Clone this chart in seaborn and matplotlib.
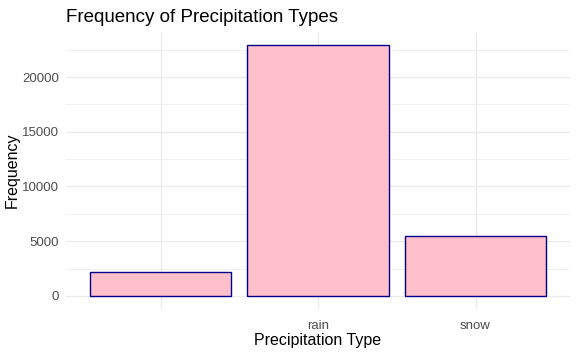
import matplotlib
matplotlib.use("Agg")
import matplotlib.pyplot as plt
import seaborn as sns
import pandas as pd
import numpy as np
from matplotlib.ticker import MultipleLocator

# data
precip_types = ["", "rain", "snow"]
counts = [2190, 22920, 5500]

df = pd.DataFrame({"type": precip_types, "count": counts})

sns.set_style("white")
plt.rcParams["font.family"] = ["Liberation Sans", "DejaVu Sans"]

fig = plt.figure(figsize=(5.77, 3.54), dpi=100)
ax = fig.add_axes([66 / 577, 1 - 308.5 / 354, 504 / 577, 276 / 354])

sns.barplot(data=df, x="type", y="count", color="pink", edgecolor="darkblue",
            linewidth=1.0, width=0.9, saturation=1, ax=ax, zorder=3)

ymax = max(counts) * 1.05
ax.set_ylim(-0.05 * max(counts), ymax)
ax.set_xlim(-0.6, 2.6)
ax.yaxis.set_major_locator(MultipleLocator(5000))
ax.yaxis.set_minor_locator(MultipleLocator(2500))
ax.grid(True, which="major", color="#EBEBEB", linewidth=1.0, zorder=0)
ax.grid(True, which="minor", axis="y", color="#F0F0F0", linewidth=0.7, zorder=0)
ax.set_axisbelow(True)
for s in ax.spines.values():
    s.set_visible(False)
ax.tick_params(axis="both", which="both", length=0, labelsize=9.5, labelcolor="#4D4D4D")
ax.tick_params(axis="x", pad=8)
ax.tick_params(axis="y", pad=5)

ax.set_xlabel("Precipitation Type", fontsize=11.5, color="black", labelpad=1)
ax.set_ylabel("Frequency", fontsize=11.5, color="black", labelpad=2)
fig.text(66 / 577, 1 - 17 / 354, "Frequency of Precipitation Types", fontsize=13.5,
         va="center", ha="left", color="black")

fig.savefig("out.png", dpi=100, facecolor="white")
